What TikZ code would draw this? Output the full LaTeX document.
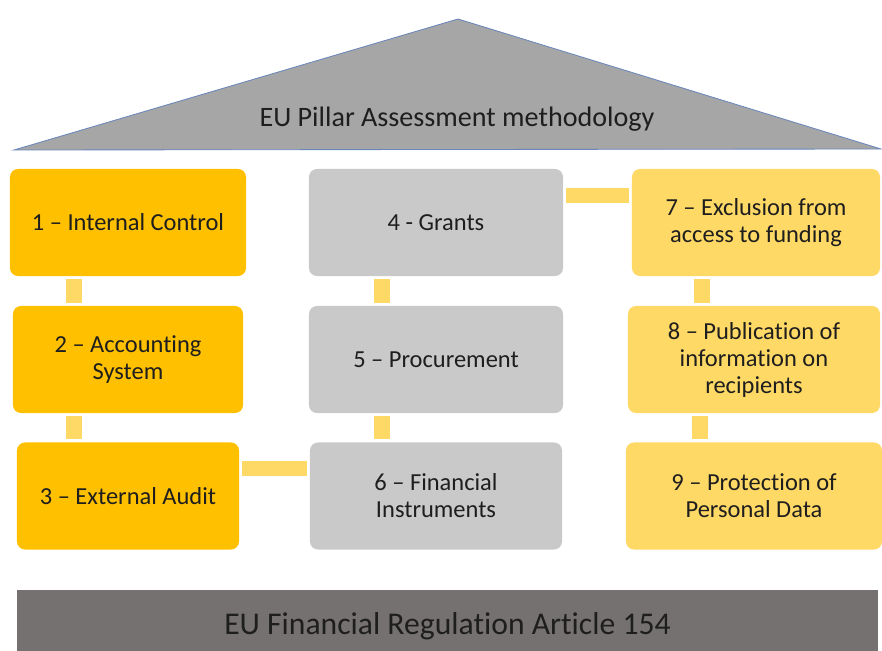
\documentclass[tikz,border=0pt]{standalone}
\usepackage{fontspec}
\setmainfont[Ligatures=NoCommon]{Carlito}
\definecolor{pillarA}{HTML}{FFC000}
\definecolor{pillarB}{HTML}{C9C9C9}
\definecolor{pillarC}{HTML}{FFD966}
\definecolor{roofgray}{HTML}{A6A6A6}
\definecolor{roofline}{HTML}{6A86BC}
\definecolor{basegray}{HTML}{767171}
\definecolor{ink}{HTML}{1E1E1E}
\begin{document}
\begin{tikzpicture}[x=0.025cm,y=-0.025cm,
	box/.style={rounded corners=0.2cm,minimum height=2.675cm,align=center,text=ink,inner sep=2pt,font=\fontsize{17.4}{19.2}\selectfont},
	link/.style={draw=pillarC,line width=0.39cm,shorten <=0.065cm,shorten >=0.075cm}]
	\useasboundingbox (0,0) rectangle (882,651);

	% roof
	\filldraw[fill=roofgray,draw=roofline,line width=0.6pt] (14,150) -- (458,19) -- (881,149) -- cycle;
	\node[text=ink,font=\fontsize{20}{24}\selectfont] (roof) at (457,119) {EU Pillar Assessment methodology};

	% pillars
	\node[box,fill=pillarA,minimum width=5.9cm] (b1) at (128,222.5) {1 – Internal Control};
	\node[box,fill=pillarA,minimum width=5.75cm] (b2) at (128,359.5) {2 – Accounting\\System};
	\node[box,fill=pillarA,minimum width=5.55cm] (b3) at (128,496) {3 – External Audit};

	\node[box,fill=pillarB,minimum width=6.35cm] (b4) at (436,222.5) {4 - Grants};
	\node[box,fill=pillarB,minimum width=6.35cm] (b5) at (436,359.5) {5 – Procurement};
	\node[box,fill=pillarB,minimum width=6.3cm] (b6) at (436,496) {6 – Financial\\Instruments};

	\node[box,fill=pillarC,minimum width=6.2cm] (b7) at (756,222.5) {7 – Exclusion from\\access to funding};
	\node[box,fill=pillarC,minimum width=6.3cm] (b8) at (754,359.5) {8 – Publication of\\information on\\recipients};
	\node[box,fill=pillarC,minimum width=6.4cm] (b9) at (754,496) {9 – Protection of\\Personal Data};

	% links
	\foreach \a/\b in {b1/b2,b2/b3,b4/b5,b5/b6,b7/b8,b8/b9}
		\draw[link] ([xshift=-1.35cm]\a.south) -- ([xshift=-1.35cm]\a.south |- \b.north);
	\draw[link] ([yshift=0.69cm]b3.east) -- ([yshift=0.69cm]b3.east -| b6.west);
	\draw[link] ([yshift=0.675cm]b4.east) -- ([yshift=0.675cm]b4.east -| b7.west);

	% base
	\node[fill=basegray,text=ink,minimum width=21.525cm,minimum height=1.8cm,font=\fontsize{22.5}{26}\selectfont] (base) at (447.5,626) {EU Financial Regulation Article 154};
\end{tikzpicture}
\end{document}
